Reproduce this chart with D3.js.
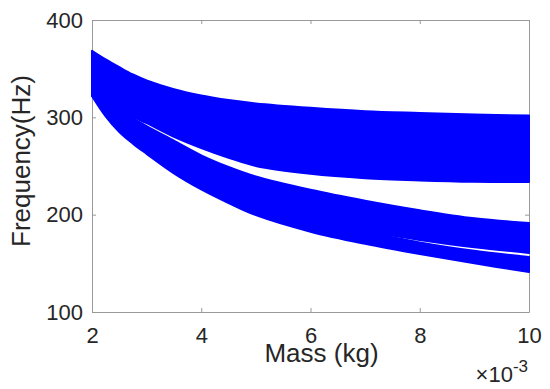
<!DOCTYPE html>
<html>
<head>
<meta charset="utf-8">
<script src="https://cdn.jsdelivr.net/npm/d3@7"></script>
<style>
  body { margin: 0; background: #fff; }
  svg { display: block; }
</style>
</head>
<body>
<svg id="chart"></svg>
<script>
// mass in units of 10^-3 kg
const mass = [2, 2.25, 2.5, 2.75, 3, 3.5, 4, 4.5, 5, 6, 7, 8, 9, 10];

// upper band (Hz)
const upperTop    = [368.4, 359.5, 351.5, 344, 338, 329, 322.5, 317.8, 314.3, 309.8, 306.3, 304.5, 303, 301.8];
const upperBottom = [322, 314, 307.5, 300.5, 294, 280, 268.5, 258.5, 250, 242, 237.5, 235.2, 233.8, 233.6];

// middle band (Hz)
const midTop    = [335, 320, 308, 299, 291, 276, 261, 249, 239.2, 225.5, 214.3, 204.5, 196.3, 191.5];
const midBottom = [325, 305, 290, 278, 268, 249, 233, 220, 206, 189, 183, 174, 166.5, 160.7];

// lower band (Hz)
const lowTop    = [330, 310, 295, 283, 273, 255, 240, 228, 213, 196, 183, 171.5, 162.9, 156.6];
const lowBottom = [322, 301, 285, 273, 262.5, 242.5, 226, 212, 199.5, 182.5, 170, 159.5, 150, 141];

const xTicks = [2, 4, 6, 8, 10];
const yTicks = [100, 200, 300, 400];

const width = 550;
const height = 389;
const margin = { top: 20, right: 21, bottom: 77, left: 92 };

const font = '"Liberation Sans", Arial, Helvetica, sans-serif';
const axisColor = '#999999';
const textColor = '#262626';

const svg = d3.select('#chart')
  .attr('width', width)
  .attr('height', height);

const xScale = d3.scaleLinear()
  .domain([2, 10])
  .range([margin.left, width - margin.right]);

const yScale = d3.scaleLinear()
  .domain([100, 400])
  .range([height - margin.bottom, margin.top]);

const styleAxis = g => {
  g.select('.domain').attr('stroke', axisColor);
  g.selectAll('.tick line').attr('stroke', axisColor);
  g.selectAll('.tick text')
    .attr('fill', textColor)
    .style('font-family', font)
    .style('font-size', '22px');
};

// bottom axis
svg.append('g')
  .attr('transform', `translate(0,${yScale(100)})`)
  .call(d3.axisBottom(xScale).tickValues(xTicks).tickSizeInner(-4).tickSizeOuter(0).tickPadding(15))
  .call(styleAxis);

// left axis
svg.append('g')
  .attr('transform', `translate(${xScale(2)},0)`)
  .call(d3.axisLeft(yScale).tickValues(yTicks).tickSizeInner(-4).tickSizeOuter(0).tickPadding(9))
  .call(styleAxis);

// top and right box lines with mirrored ticks
svg.append('g')
  .attr('transform', `translate(0,${yScale(400)})`)
  .call(d3.axisTop(xScale).tickValues(xTicks).tickSizeInner(-4).tickSizeOuter(0).tickFormat(''))
  .call(styleAxis);

svg.append('g')
  .attr('transform', `translate(${xScale(10)},0)`)
  .call(d3.axisRight(yScale).tickValues(yTicks).tickSizeInner(-4).tickSizeOuter(0).tickFormat(''))
  .call(styleAxis);

// bands of points, drawn as filled regions
const bands = [
  { top: upperTop, bottom: upperBottom },
  { top: midTop, bottom: midBottom },
  { top: lowTop, bottom: lowBottom }
];

const area = d3.area()
  .x(d => xScale(d.m))
  .y0(d => yScale(d.lo))
  .y1(d => yScale(d.hi))
  .curve(d3.curveCatmullRom.alpha(0.5));

bands.forEach(b => {
  const rows = mass.map((m, i) => ({ m: m, hi: b.top[i], lo: b.bottom[i] }));
  svg.append('path')
    .datum(rows)
    .attr('d', area)
    .attr('fill', '#0000ff')
    .attr('stroke', '#0000ff')
    .attr('stroke-width', 2)
    .attr('stroke-linejoin', 'round');
});

// axis labels
svg.append('text')
  .attr('x', 321.5)
  .attr('y', 362)
  .attr('text-anchor', 'middle')
  .attr('fill', textColor)
  .style('font-family', font)
  .style('font-size', '26px')
  .text('Mass (kg)');

svg.append('text')
  .attr('transform', 'translate(30,161) rotate(-90)')
  .attr('text-anchor', 'middle')
  .attr('fill', textColor)
  .style('font-family', font)
  .style('font-size', '26px')
  .text('Frequency(Hz)');

// exponent label
const expo = svg.append('text')
  .attr('x', 528)
  .attr('y', 382)
  .attr('text-anchor', 'end')
  .attr('fill', textColor)
  .style('font-family', font)
  .style('font-size', '22px');
expo.append('tspan').text('\u00d710');
expo.append('tspan')
  .attr('dy', -10.5)
  .style('font-size', '17px')
  .text('-3');
</script>
</body>
</html>
